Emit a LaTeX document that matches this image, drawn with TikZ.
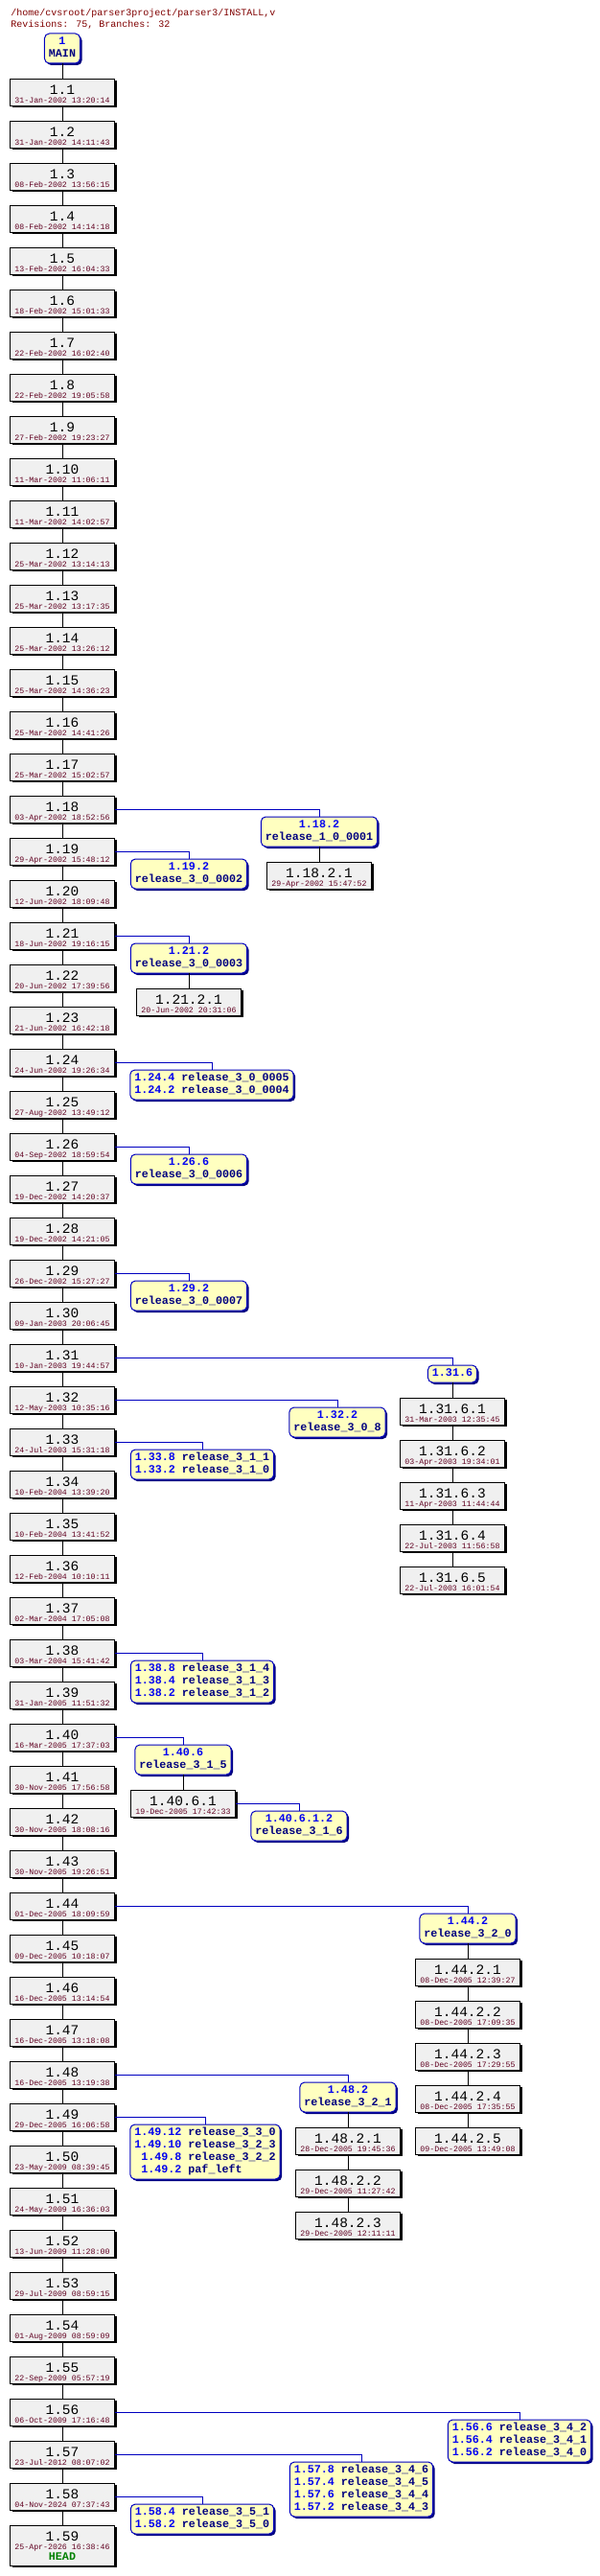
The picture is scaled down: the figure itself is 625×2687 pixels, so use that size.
\documentclass[tikz,border=0pt]{standalone}
\usepackage{fontspec}
\usepackage{xcolor}
\usepackage{tikz}
\usetikzlibrary{positioning,shadows}
\newfontfamily\monofam{Liberation Mono}
\definecolor{revfill}{HTML}{F0F0F0}
\definecolor{tagfill}{HTML}{FFFFC0}
\definecolor{tagline}{HTML}{0000C0}
\definecolor{tagrev}{HTML}{0000F0}
\definecolor{tagname}{HTML}{000080}
\definecolor{datecol}{HTML}{600020}
\definecolor{titlecol}{HTML}{800000}
\definecolor{headcol}{HTML}{008000}
\newcommand\revfont{\monofam\fontsize{14.5}{12}\selectfont}
\newcommand\datefont{\monofam\fontsize{8.25}{9}\selectfont\color{datecol}}
\newcommand\tagfont{\monofam\bfseries\fontsize{11.7}{13}\selectfont}
\newcommand\headfont{\monofam\bfseries\fontsize{11.7}{13}\selectfont\color{headcol}}
\newcommand\tagrv[1]{\textcolor{tagrev}{#1}}
\newcommand\rv[2]{\rule{0pt}{15pt}#1\\[-3pt]{\datefont\rule[-2pt]{0pt}{2pt}#2}}
\newcommand\tg[2]{\begin{tabular}{@{}c@{}}\tagrv{#1}\\#2\end{tabular}}
\newcommand\tgl[1]{\begin{tabular}{@{}r@{ }l@{}}#1\end{tabular}}

\begin{document}
\begin{tikzpicture}[x=1pt,y=-1pt,line width=1pt,node distance=16pt,
rev/.style={draw,fill=revfill,inner sep=0pt,outer sep=0pt,minimum width=109pt,minimum height=28pt,
  align=center,font=\revfont,
  drop shadow={shadow xshift=2pt,shadow yshift=-2pt,fill=black,opacity=1}},
headrev/.style={rev,minimum height=42pt},
tagbox/.style={draw=tagline,fill=tagfill,rounded corners=5pt,inner xsep=4.5pt,inner ysep=2.5pt,
  outer sep=0pt,anchor=north,font=\tagfont,text=tagname,
  drop shadow={shadow xshift=2pt,shadow yshift=-2pt,fill=tagname,opacity=1}},
brline/.style={draw=tagline}]
\path[use as bounding box,fill=white] (0,0) rectangle (625,2687);
\node[anchor=north west,align=left,inner sep=0pt,text=titlecol,
  font=\monofam\fontsize{10}{12}\selectfont] (title) at (11,8)
  {\rule{0pt}{8pt}/home/cvsroot/parser3project/parser3/INSTALL,v\\Revisions: 75, Branches: 32};

% trunk
\node[tagbox] (main) at (65,35) {\tg{1}{MAIN}};
\node[rev,below=of main] (r1) {\rv{1.1}{31-Jan-2002 13:20:14}};
\foreach \n/\dt [remember=\n as \p (initially 1)] in {2/31-Jan-2002 14:11:43,
  3/08-Feb-2002 13:56:15, 4/08-Feb-2002 14:14:18, 5/13-Feb-2002 16:04:33,
  6/18-Feb-2002 15:01:33, 7/22-Feb-2002 16:02:40, 8/22-Feb-2002 19:05:58,
  9/27-Feb-2002 19:23:27, 10/11-Mar-2002 11:06:11, 11/11-Mar-2002 14:02:57,
  12/25-Mar-2002 13:14:13, 13/25-Mar-2002 13:17:35, 14/25-Mar-2002 13:26:12,
  15/25-Mar-2002 14:36:23, 16/25-Mar-2002 14:41:26, 17/25-Mar-2002 15:02:57,
  18/03-Apr-2002 18:52:56, 19/29-Apr-2002 15:48:12, 20/12-Jun-2002 18:09:48,
  21/18-Jun-2002 19:16:15, 22/20-Jun-2002 17:39:56, 23/21-Jun-2002 16:42:18,
  24/24-Jun-2002 19:26:34, 25/27-Aug-2002 13:49:12, 26/04-Sep-2002 18:59:54,
  27/19-Dec-2002 14:20:37, 28/19-Dec-2002 14:21:05, 29/26-Dec-2002 15:27:27,
  30/09-Jan-2003 20:06:45, 31/10-Jan-2003 19:44:57, 32/12-May-2003 10:35:16,
  33/24-Jul-2003 15:31:18, 34/10-Feb-2004 13:39:20, 35/10-Feb-2004 13:41:52,
  36/12-Feb-2004 10:10:11, 37/02-Mar-2004 17:05:08, 38/03-Mar-2004 15:41:42,
  39/31-Jan-2005 11:51:32, 40/16-Mar-2005 17:37:03, 41/30-Nov-2005 17:56:58,
  42/30-Nov-2005 18:08:16, 43/30-Nov-2005 19:26:51, 44/01-Dec-2005 18:09:59,
  45/09-Dec-2005 10:18:07, 46/16-Dec-2005 13:14:54, 47/16-Dec-2005 13:18:08,
  48/16-Dec-2005 13:19:38, 49/29-Dec-2005 16:06:58, 50/23-May-2009 08:39:45,
  51/24-May-2009 16:36:03, 52/13-Jun-2009 11:28:00, 53/29-Jul-2009 08:59:15,
  54/01-Aug-2009 08:59:09, 55/22-Sep-2009 05:57:19, 56/06-Oct-2009 17:16:48,
  57/23-Jul-2012 08:07:02, 58/04-Nov-2024 07:37:43}
  \node[rev,below=of r\p] (r\n) {\rv{1.\n}{\dt}};
\node[headrev,below=of r58] (r59) {\rule{0pt}{15pt}1.59\\[-3pt]{\datefont 25-Apr-2026 16:38:46}\\[-1pt]{\headfont\rule[-5pt]{0pt}{5pt}HEAD}};

% branches
\node[tagbox] (t18) at (333,852) {\tg{1.18.2}{release\_1\_0\_0001}};
\node[rev,below=of t18] (r18-2-1) {\rv{1.18.2.1}{29-Apr-2002 15:47:52}};
\node[tagbox] (t19) at (197,896) {\tg{1.19.2}{release\_3\_0\_0002}};
\node[tagbox] (t21) at (197,984) {\tg{1.21.2}{release\_3\_0\_0003}};
\node[rev,below=of t21] (r21-2-1) {\rv{1.21.2.1}{20-Jun-2002 20:31:06}};
\node[tagbox] (t24) at (221,1116) {\tgl{\tagrv{1.24.4}&release\_3\_0\_0005\\\tagrv{1.24.2}&release\_3\_0\_0004}};
\node[tagbox] (t26) at (197,1204) {\tg{1.26.6}{release\_3\_0\_0006}};
\node[tagbox] (t29) at (197,1336) {\tg{1.29.2}{release\_3\_0\_0007}};
\node[tagbox] (t31) at (472,1424) {\strut\tagrv{1.31.6}};
\node[rev,below=of t31] (r31-6-1) {\rv{1.31.6.1}{31-Mar-2003 12:35:45}};
\node[rev,below=of r31-6-1] (r31-6-2) {\rv{1.31.6.2}{03-Apr-2003 19:34:01}};
\node[rev,below=of r31-6-2] (r31-6-3) {\rv{1.31.6.3}{11-Apr-2003 11:44:44}};
\node[rev,below=of r31-6-3] (r31-6-4) {\rv{1.31.6.4}{22-Jul-2003 11:56:58}};
\node[rev,below=of r31-6-4] (r31-6-5) {\rv{1.31.6.5}{22-Jul-2003 16:01:54}};
\node[tagbox] (t32) at (352,1468) {\tg{1.32.2}{release\_3\_0\_8}};
\node[tagbox] (t33) at (211,1512) {\tgl{\tagrv{1.33.8}&release\_3\_1\_1\\\tagrv{1.33.2}&release\_3\_1\_0}};
\node[tagbox] (t38) at (211,1732) {\tgl{\tagrv{1.38.8}&release\_3\_1\_4\\\tagrv{1.38.4}&release\_3\_1\_3\\
  \tagrv{1.38.2}&release\_3\_1\_2}};
\node[tagbox] (t40) at (191,1820) {\tg{1.40.6}{release\_3\_1\_5}};
\node[rev,below=of t40] (r40-6-1) {\rv{1.40.6.1}{19-Dec-2005 17:42:33}};
\node[tagbox] (t40-6-1) at (312,1889) {\tg{1.40.6.1.2}{release\_3\_1\_6}};
\node[tagbox] (t44) at (488,1996) {\tg{1.44.2}{release\_3\_2\_0}};
\node[rev,below=of t44] (r44-2-1) {\rv{1.44.2.1}{08-Dec-2005 12:39:27}};
\node[rev,below=of r44-2-1] (r44-2-2) {\rv{1.44.2.2}{08-Dec-2005 17:09:35}};
\node[rev,below=of r44-2-2] (r44-2-3) {\rv{1.44.2.3}{08-Dec-2005 17:29:55}};
\node[rev,below=of r44-2-3] (r44-2-4) {\rv{1.44.2.4}{08-Dec-2005 17:35:55}};
\node[rev,below=of r44-2-4] (r44-2-5) {\rv{1.44.2.5}{09-Dec-2005 13:49:08}};
\node[tagbox] (t48) at (363,2172) {\tg{1.48.2}{release\_3\_2\_1}};
\node[rev,below=of t48] (r48-2-1) {\rv{1.48.2.1}{28-Dec-2005 19:45:36}};
\node[rev,below=of r48-2-1] (r48-2-2) {\rv{1.48.2.2}{29-Dec-2005 11:27:42}};
\node[rev,below=of r48-2-2] (r48-2-3) {\rv{1.48.2.3}{29-Dec-2005 12:11:11}};
\node[tagbox] (t49) at (214,2216) {\tgl{\tagrv{1.49.12}&release\_3\_3\_0\\\tagrv{1.49.10}&release\_3\_2\_3\\
  \tagrv{1.49.8}&release\_3\_2\_2\\\tagrv{1.49.2}&paf\_left}};
\node[tagbox] (t56) at (542,2524) {\tgl{\tagrv{1.56.6}&release\_3\_4\_2\\\tagrv{1.56.4}&release\_3\_4\_1\\
  \tagrv{1.56.2}&release\_3\_4\_0}};
\node[tagbox] (t57) at (377,2568) {\tgl{\tagrv{1.57.8}&release\_3\_4\_6\\\tagrv{1.57.4}&release\_3\_4\_5\\
  \tagrv{1.57.6}&release\_3\_4\_4\\\tagrv{1.57.2}&release\_3\_4\_3}};
\node[tagbox] (t58) at (211,2612) {\tgl{\tagrv{1.58.4}&release\_3\_5\_1\\\tagrv{1.58.2}&release\_3\_5\_0}};

% connectors
\draw (main) -- (r1);
\foreach \n [remember=\n as \p (initially 1)] in {2,...,59}
  \draw (r\p) -- (r\n);
\foreach \a/\b in {r18/t18,r19/t19,r21/t21,r24/t24,r26/t26,r29/t29,r31/t31,r32/t32,
  r33/t33,r38/t38,r40/t40,r40-6-1/t40-6-1,r44/t44,r48/t48,r49/t49,r56/t56,r57/t57,r58/t58}
  \draw[brline] (\a.east) -| (\b.north);
\foreach \a/\b in {t18/r18-2-1,t21/r21-2-1,t31/r31-6-1,r31-6-1/r31-6-2,r31-6-2/r31-6-3,
  r31-6-3/r31-6-4,r31-6-4/r31-6-5,t40/r40-6-1,t44/r44-2-1,r44-2-1/r44-2-2,r44-2-2/r44-2-3,
  r44-2-3/r44-2-4,r44-2-4/r44-2-5,t48/r48-2-1,r48-2-1/r48-2-2,r48-2-2/r48-2-3}
  \draw (\a) -- (\b);
\end{tikzpicture}
\end{document}
